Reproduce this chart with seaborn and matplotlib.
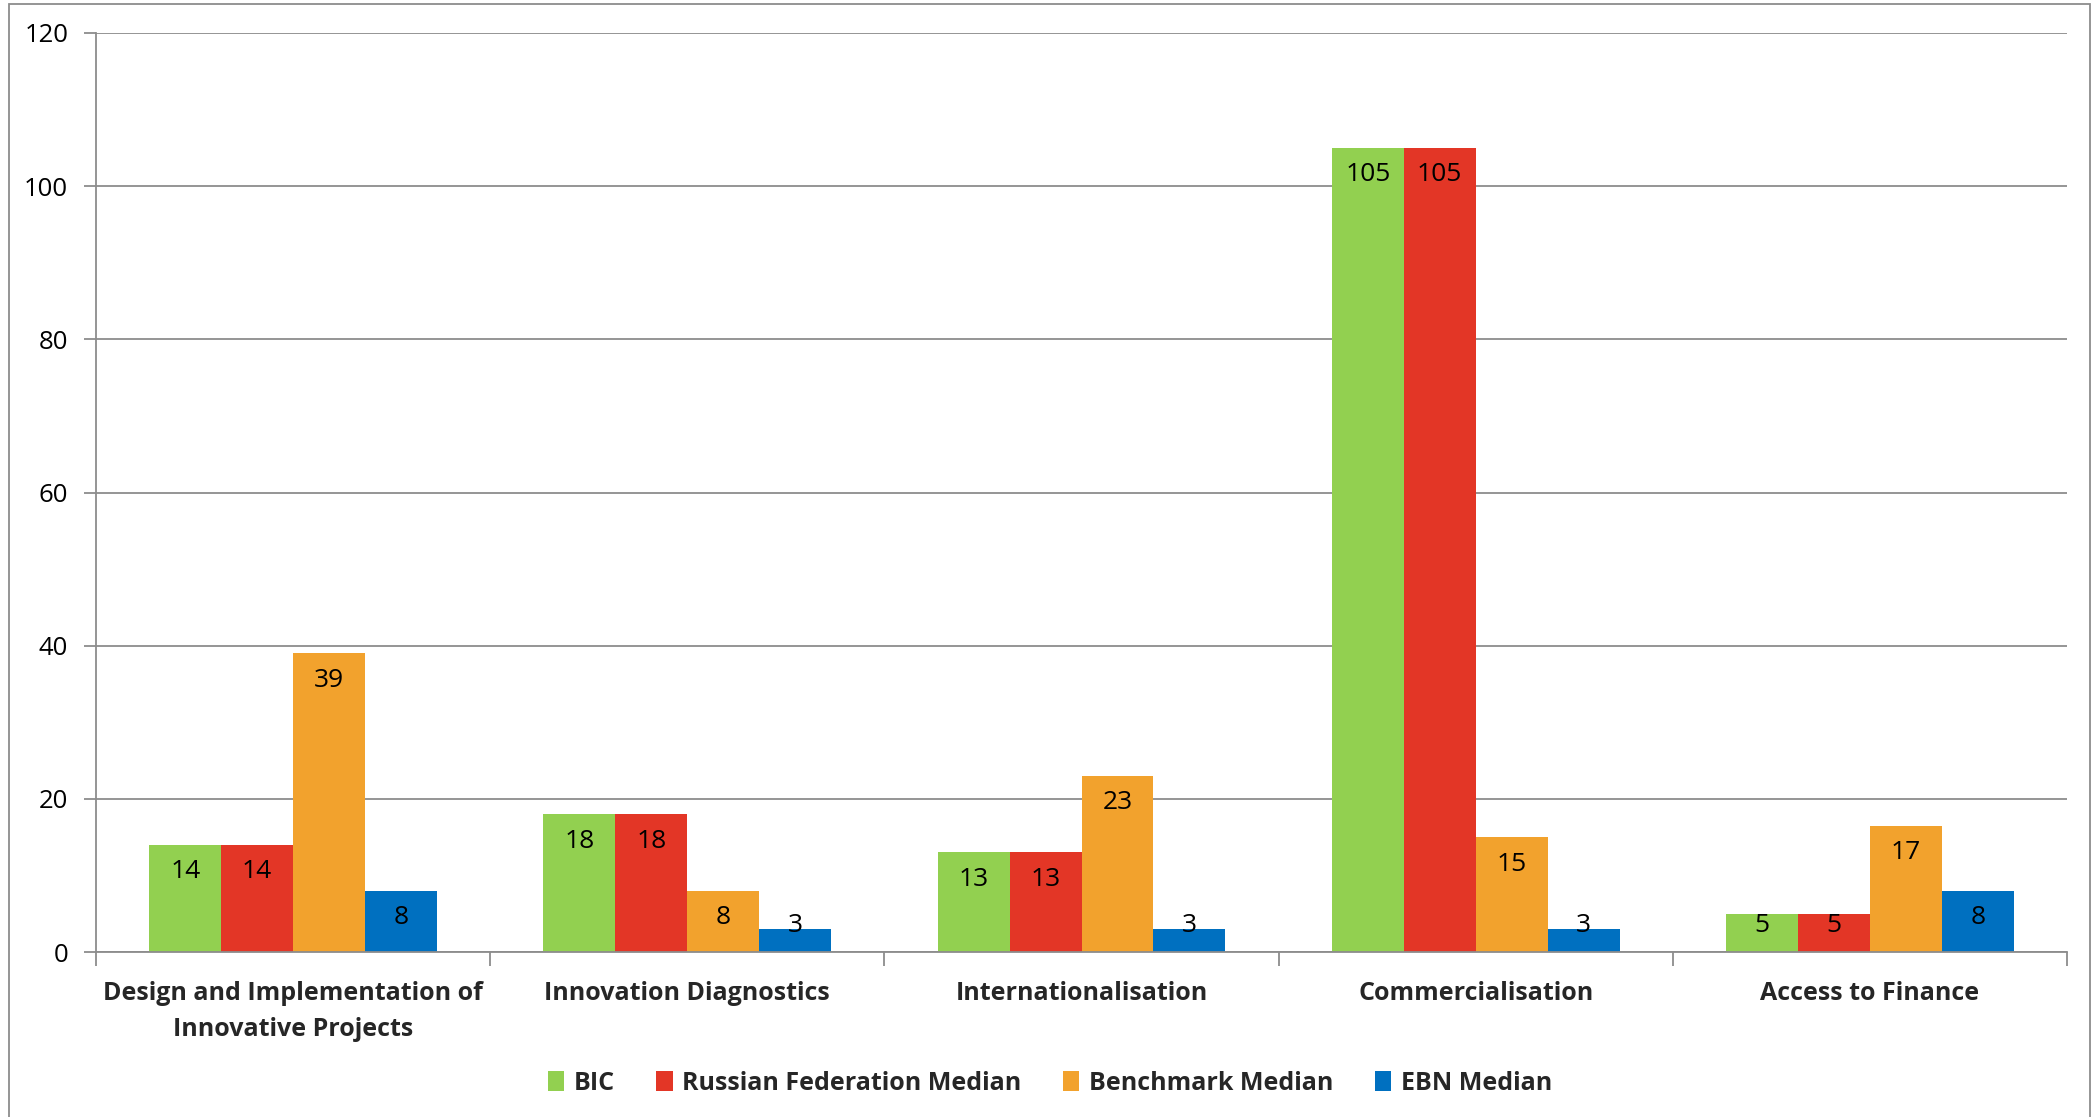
import math
import numpy as np
import pandas as pd
import matplotlib
matplotlib.use("Agg")
import matplotlib.pyplot as plt
from matplotlib.patches import Patch, Rectangle
import seaborn as sns

categories = ["Design and Implementation of\nInnovative Projects", "Innovation Diagnostics",
              "Internationalisation", "Commercialisation", "Access to Finance"]
series = ["BIC", "Russian Federation Median", "Benchmark Median", "EBN Median"]
bic = [14, 18, 13, 105, 5]
russia = [14, 18, 13, 105, 5]
benchmark = [39, 8, 23, 15, 16.5]
ebn = [8, 3, 3, 3, 8]
colors = ["#92D050", "#E33626", "#F2A22D", "#0070C0"]
y_ticks = [0, 20, 40, 60, 80, 100, 120]

values = [bic, russia, benchmark, ebn]
df = pd.DataFrame({
    "category": [c for _ in series for c in categories],
    "series": [s for s in series for _ in categories],
    "value": [v for vals in values for v in vals],
})

sns.set_theme(style="white")
plt.rcParams["font.family"] = ["Open Sans", "DejaVu Sans"]

W, H = 2100, 1117
fig = plt.figure(figsize=(W / 100, H / 100), dpi=100)
ax = fig.add_axes([96 / W, 1 - 952 / H, (2067 - 96) / W, (952 - 33) / H])

sns.barplot(data=df, x="category", y="value", hue="series", order=categories,
            hue_order=series, palette=colors, width=0.73, saturation=1,
            errorbar=None, linewidth=0, ax=ax, legend=False)

grid_col = "#8c8c8c"
ax.set_ylim(0, 120)
ax.set_xlim(-0.5, len(categories) - 0.5)
ax.set_yticks(y_ticks)
ax.set_yticklabels([str(t) for t in y_ticks], fontsize=18.5, color="black")
ax.yaxis.grid(True, color=grid_col, lw=1.3)
ax.set_axisbelow(True)
for s in ["top", "right"]:
    ax.spines[s].set_visible(False)
for s in ["left", "bottom"]:
    ax.spines[s].set_color(grid_col)
    ax.spines[s].set_linewidth(1.3)
ax.tick_params(axis="y", length=9, width=1.3, color=grid_col, pad=11, left=True)
ax.set_xticks(range(len(categories)))
ax.set_xticklabels(categories, fontsize=18, fontweight="bold", linespacing=1.55)
ax.tick_params(axis="x", which="major", length=0, pad=21)
ax.set_xticks(np.arange(-0.5, len(categories), 1.0), minor=True)
ax.tick_params(axis="x", which="minor", length=10, width=1.3, color=grid_col, bottom=True)
ax.set_xlabel("")
ax.set_ylabel("")

# value labels, Excel "inside end"
pt = 72 / 100
for cont, vals in zip(ax.containers, values):
    for bar, v in zip(cont, vals):
        x = bar.get_x() + bar.get_width() / 2
        h = bar.get_height()
        px_h = ax.transData.transform((0, h))[1] - ax.transData.transform((0, 0))[1]
        lab = str(int(math.floor(v + 0.5)))
        if px_h - 27 < 26:
            ax.annotate(lab, (x, 0), xytext=(0, 26 * pt), textcoords="offset points",
                        ha="center", va="center", fontsize=19, color="black")
        else:
            ax.annotate(lab, (x, h), xytext=(0, -27 * pt), textcoords="offset points",
                        ha="center", va="center", fontsize=19, color="black")

handles = [Patch(facecolor=c, edgecolor="none", label=s) for c, s in zip(colors, series)]
leg = fig.legend(handles=handles, loc="center", bbox_to_anchor=(0.5, 1 - 1083 / H),
                 ncol=4, frameon=False, handlelength=0.65, handleheight=0.85,
                 handletextpad=0.4, columnspacing=1.65,
                 prop={"size": 18, "weight": "bold"})

fig.add_artist(Rectangle((9 / W, -0.01), (2090 - 9) / W, (H - 4) / H + 0.01,
                         transform=fig.transFigure, fill=False, edgecolor=grid_col, lw=1.3))

fig.savefig("out.png", dpi=100)
